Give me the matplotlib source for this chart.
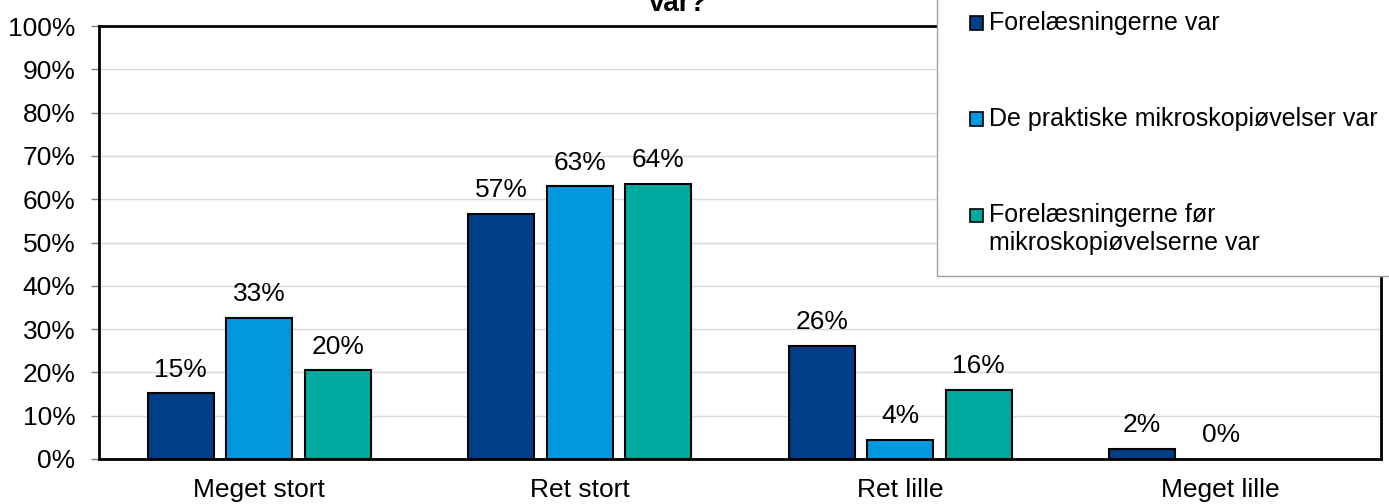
import numpy as np
import matplotlib.pyplot as plt
from matplotlib.patches import Rectangle

# categories and series (share of answers, %)
categories = ["Meget stort", "Ret stort", "Ret lille", "Meget lille"]
series_names = ["Forelæsningerne var",
                "De praktiske mikroskopiøvelser var",
                "Forelæsningerne før\nmikroskopiøvelserne var"]
forelaesninger = [15.2, 56.6, 26.1, 2.3]
mikroskopi = [32.6, 63.0, 4.4, 0.0]
foer_mikroskopi = [20.5, 63.6, 15.9, None]
labels_1 = ["15%", "57%", "26%", "2%"]
labels_2 = ["33%", "63%", "4%", "0%"]
labels_3 = ["20%", "64%", "16%", ""]
colors = ["#003F87", "#0099DD", "#00A99D"]

plt.rcParams['font.family'] = ['Liberation Sans', 'DejaVu Sans']
FS = 19

W, H = 1389, 504
fig = plt.figure(figsize=(W / 100, H / 100), dpi=100)
ax = fig.add_axes([99 / W, 1 - 459 / H, (1381 - 99) / W, (459 - 26) / H])

x = np.arange(len(categories))
width = 0.206
step = 0.245
all_series = [forelaesninger, mikroskopi, foer_mikroskopi]
all_labels = [labels_1, labels_2, labels_3]
for i, (vals, labs) in enumerate(zip(all_series, all_labels)):
    for j, v in enumerate(vals):
        if v is None:
            continue
        xpos = x[j] + (i - 1) * step
        if v > 0:
            ax.bar(xpos, v, width, color=colors[i], edgecolor="black",
                   linewidth=1.5, zorder=3)
        if labs[j]:
            ax.annotate(labs[j], (xpos, v), xytext=(0, 12),
                        textcoords="offset points", ha="center",
                        va="baseline", fontsize=FS)

ax.set_xlim(-0.5, 3.5)
ax.set_ylim(0, 100)
ax.set_yticks(np.arange(0, 101, 10))
ax.set_yticklabels([f"{t}%" for t in range(0, 101, 10)], fontsize=FS)
ax.set_xticks(x)
ax.set_xticklabels(categories, fontsize=FS)
ax.tick_params(axis="x", length=0, pad=14)
ax.tick_params(axis="y", length=6, width=1, color="#808080", pad=11)
ax.yaxis.grid(True, color="#d9d9d9", linewidth=1, zorder=0)
ax.set_axisbelow(True)
for s in ax.spines.values():
    s.set_linewidth(2)
    s.set_color("black")

# title, cut at the top of the picture as in the original
fig.text(678 / W, 1 - 11 / H, "var?", ha="center", va="baseline",
         fontsize=20, fontweight="bold")

# legend box drawn by hand
fig.patches.append(Rectangle((937 / W, 1 - 276 / H), (W - 937 + 10) / W,
                             (276 + 20) / H, transform=fig.transFigure,
                             facecolor="white", edgecolor="#a0a0a0",
                             linewidth=1, zorder=10))
ys = [23, 119, 215]
for name, c, yy in zip(series_names, colors, ys):
    fig.patches.append(Rectangle((970 / W, 1 - (yy + 6.5) / H), 13 / W, 13 / H,
                                 transform=fig.transFigure, facecolor=c,
                                 edgecolor="black", linewidth=1.2, zorder=11))
    for k, line in enumerate(name.split("\n")):
        fig.text(989 / W, 1 - (yy + 28 * k) / H, line, ha="left",
                 va="center", fontsize=18, zorder=12)

fig.savefig("out.png", dpi=100)
